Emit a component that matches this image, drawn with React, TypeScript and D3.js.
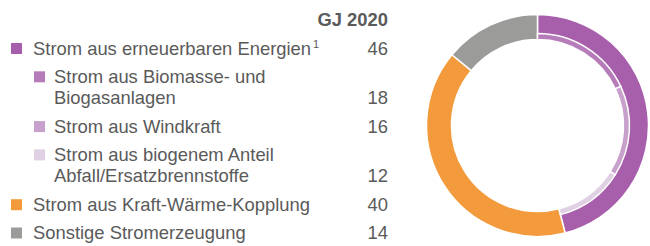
import { useEffect, useRef } from 'react';
import * as d3 from 'd3';

// main categories (outer ring)
const mainLabels = ['Strom aus erneuerbaren Energien', 'Strom aus Kraft-Wärme-Kopplung', 'Sonstige Stromerzeugung'];
const mainValues = [46, 40, 14];
const mainColors = ['#a75fac', '#f39a3c', '#9b9c9a'];

// breakdown of the renewable share (inner thin ring)
const subLabels = [
  ['Strom aus Biomasse- und', 'Biogasanlagen'],
  ['Strom aus Windkraft'],
  ['Strom aus biogenem Anteil', 'Abfall/Ersatzbrennstoffe'],
];
const subValues = [18, 16, 12];
const subColors = ['#b67cba', '#c7a0cb', '#e0d0e4'];

const header = 'GJ 2020';

const App = () => {
  const svgRef = useRef<SVGSVGElement>(null);

  useEffect(() => {
    if (!svgRef.current) return;
    const width = 650;
    const height = 246;
    const svg = d3.select(svgRef.current).attr('width', width).attr('height', height);
    svg.selectAll('*').remove();

    const textColor = '#5a5a5a';
    const font = 'Liberation Sans, Arial, sans-serif';

    // legend table
    const legend = svg.append('g').attr('font-family', font).attr('font-size', 18.4).attr('fill', textColor);
    const numX = 388;

    legend.append('text')
      .attr('x', numX).attr('y', 26)
      .attr('text-anchor', 'end')
      .attr('font-weight', 'bold')
      .text(header);

    type Row = { lines: string[]; value: number; color: string; indent: boolean; sup?: string };
    const rows: Row[] = [
      { lines: [mainLabels[0]], value: mainValues[0], color: mainColors[0], indent: false, sup: '1' },
      ...subLabels.map((l, i) => ({ lines: l, value: subValues[i], color: subColors[i], indent: true })),
      { lines: [mainLabels[1]], value: mainValues[1], color: mainColors[1], indent: false },
      { lines: [mainLabels[2]], value: mainValues[2], color: mainColors[2], indent: false },
    ];

    const lineH = 21.5;
    const rowStep = 28.3;
    let y = 54.5;
    rows.forEach(r => {
      const sqX = r.indent ? 34 : 11;
      const txX = r.indent ? 54 : 33;
      legend.append('rect')
        .attr('x', sqX).attr('y', y - 11.5)
        .attr('width', 11).attr('height', 11)
        .attr('fill', r.color);
      r.lines.forEach((ln, j) => {
        const t = legend.append('text').attr('x', txX).attr('y', y + j * lineH).text(ln);
        if (r.sup && j === r.lines.length - 1) {
          t.append('tspan').attr('font-size', 11).attr('dx', 2).attr('dy', -7).text(r.sup);
        }
      });
      const lastY = y + (r.lines.length - 1) * lineH;
      legend.append('text')
        .attr('x', numX).attr('y', lastY)
        .attr('text-anchor', 'end')
        .text(r.value);
      y = lastY + rowStep;
    });

    // donut
    const cx = 537.5;
    const cy = 125.5;
    const outerR = 111;
    const innerR = 86;
    const subOuter = 92;

    const total = d3.sum(mainValues);
    const angle = d3.scaleLinear().domain([0, total]).range([0, 2 * Math.PI]);

    const pie = d3.pie<number>().sort(null).value(d => d);
    const arcMain = d3.arc<d3.PieArcDatum<number>>().innerRadius(innerR).outerRadius(outerR);
    const g = svg.append('g').attr('transform', `translate(${cx},${cy})`);

    g.selectAll('path.main')
      .data(pie(mainValues))
      .join('path')
      .attr('class', 'main')
      .attr('d', arcMain)
      .attr('fill', (_, i) => mainColors[i])
      .attr('stroke', '#fff')
      .attr('stroke-width', 1.5);

    // inner thin ring for the renewable breakdown
    const subPie = d3.pie<number>().sort(null).value(d => d)
      .startAngle(0).endAngle(angle(mainValues[0]));
    const arcSub = d3.arc<d3.PieArcDatum<number>>().innerRadius(innerR).outerRadius(subOuter);
    g.selectAll('path.sub')
      .data(subPie(subValues))
      .join('path')
      .attr('class', 'sub')
      .attr('d', arcSub)
      .attr('fill', (_, i) => subColors[i])
      .attr('stroke', '#fff')
      .attr('stroke-width', 1.5);
  }, []);

  return <svg ref={svgRef} style={{ position: 'absolute', left: 0, top: 0, display: 'block' }} />;
};

export default App;
